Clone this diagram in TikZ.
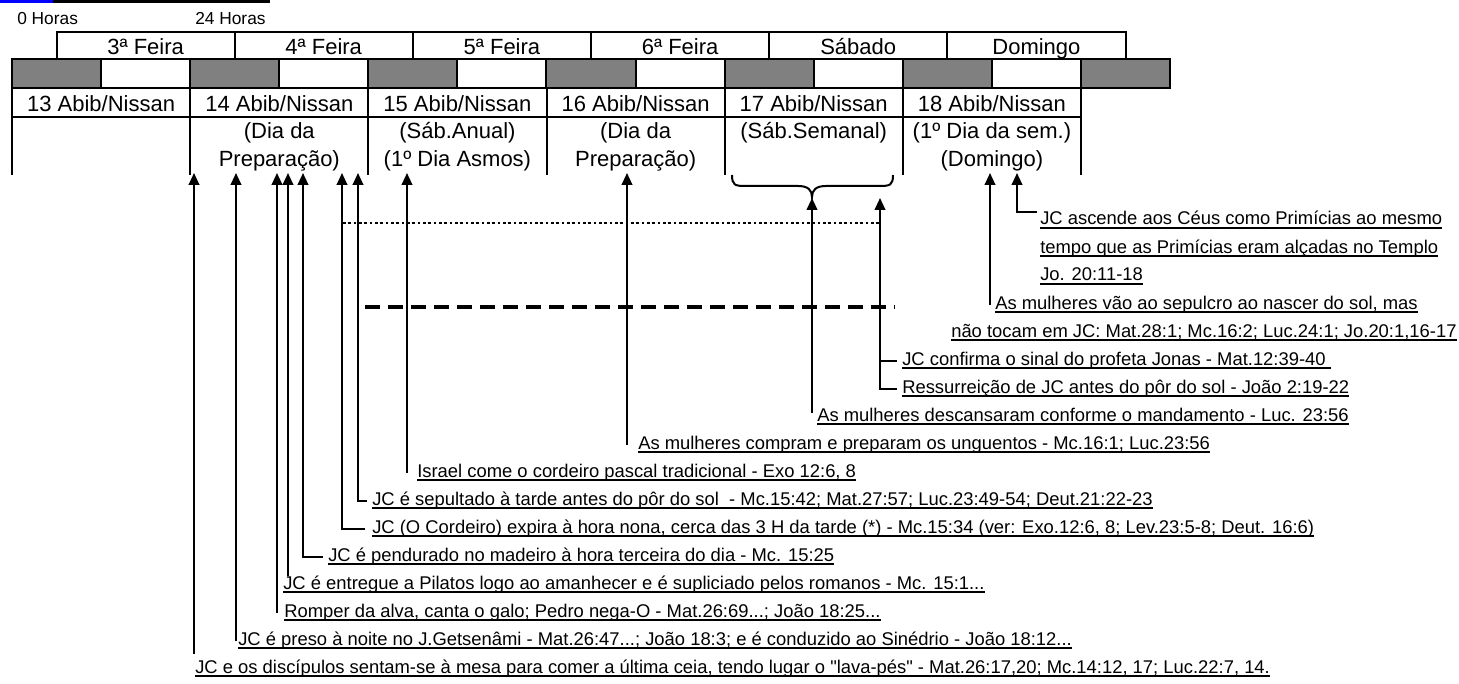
\documentclass[tikz,border=0pt]{standalone}
\usepackage{fontspec}
\setmainfont{Liberation Sans}
\usetikzlibrary{arrows.meta,calc}
\definecolor{cellgray}{HTML}{808080}
\definecolor{topblue}{HTML}{0000FF}
\newsavebox\ulbox
\newcommand{\ulx}[1]{\sbox\ulbox{#1}\rlap{\rule[-3pt]{\wd\ulbox}{1.3pt}}\usebox\ulbox}
\tikzset{
  gridline/.style={line width=1.5pt},
  hd/.style={inner sep=0pt, anchor=base, font=\fontsize{16.5pt}{18pt}\selectfont},
  hrs/.style={inner sep=0pt, anchor=base west, font=\fontsize{13pt}{15pt}\selectfont},
  tx/.style={inner sep=0pt, anchor=base west, text height=9.75pt, text depth=3.75pt,
             font=\fontsize{13.8pt}{16pt}\selectfont},
  arr/.style={line width=1.5pt, -{Triangle[width=8pt,length=9pt]}},
  plain/.style={line width=1.5pt},
}
\begin{document}
\begin{tikzpicture}[x=0.75pt,y=-0.75pt]
\useasboundingbox (0,0) rectangle (1459,684);
% top remnant line
\draw[topblue, line width=2pt] (0,1.3) -- (53,1.3);
\draw[line width=2pt] (53,1.3) -- (270,1.3);
% hour labels
\node[hrs] (h0) at (17,25) {0 Horas};
\node[hrs] (h24) at (195,25) {24 Horas};
% row 1: week days
\draw[gridline] (56.5,32) rectangle (1125.5,59);
\foreach \x in {234.7,412.8,591,769.2,947.3}
  \draw[gridline] (\x,32) -- (\x,59);
\node[hd] (d1) at (145.6,54.5) {3ª Feira};
\node[hd] (d2) at (323.7,54.5) {4ª Feira};
\node[hd] (d3) at (501.9,54.5) {5ª Feira};
\node[hd] (d4) at (680.1,54.5) {6ª Feira};
\node[hd] (d5) at (858.2,54.5) {Sábado};
\node[hd] (d6) at (1036.4,54.5) {Domingo};
% row 2: night/day cells
\foreach \i in {0,2,...,12}
  \fill[cellgray] ({12+\i*89.077},59) rectangle ({12+(\i+1)*89.077},88);
\draw[gridline] (12,59) rectangle (1170,88);
\foreach \i in {1,...,12}
  \draw[gridline] ({12+\i*89.077},59) -- ({12+\i*89.077},88);
% row 3: dates
\draw[gridline] (12,88) rectangle (1080.9,117);
\foreach \x in {190.2,368.3,546.5,724.6,902.8}
  \draw[gridline] (\x,88) -- (\x,117);
\node[hd] (n13) at (101.1,111.5) {13 Abib/Nissan};
\node[hd] (n14) at (279.3,111.5) {14 Abib/Nissan};
\node[hd] (n15) at (457.4,111.5) {15 Abib/Nissan};
\node[hd] (n16) at (635.6,111.5) {16 Abib/Nissan};
\node[hd] (n17) at (813.7,111.5) {17 Abib/Nissan};
\node[hd] (n18) at (991.9,111.5) {18 Abib/Nissan};
% row 4: open columns
\foreach \x in {12,190.2,368.3,546.5,724.6,902.8,1080.9}
  \draw[gridline] (\x,117) -- (\x,175);
\node[hd] (p14a) at (279.3,139) {(Dia da};
\node[hd] (p14b) at (279.3,166.5) {Preparação)};
\node[hd] (p15a) at (457.4,139) {(Sáb.Anual)};
\node[hd] (p15b) at (457.4,166.5) {(1º Dia Asmos)};
\node[hd] (p16a) at (635.6,139) {(Dia da};
\node[hd] (p16b) at (635.6,166.5) {Preparação)};
\node[hd] (p17a) at (813.7,139) {(Sáb.Semanal)};
\node[hd] (p18a) at (991.9,139) {(1º Dia da sem.)};
\node[hd] (p18b) at (991.9,166.5) {(Domingo)};
% brace under Saturday
\draw[plain] (732,175) .. controls (732,185) and (735,186) .. (745,186) -- (798,186)
  .. controls (808,186) and (812,190) .. (812,197)
  .. controls (812,190) and (816,186) .. (826,186) -- (880,186)
  .. controls (890,186) and (893,185) .. (893,175);
% dotted and dashed guide lines
\draw[line width=2pt, dash pattern=on 2pt off 2pt] (343,223) -- (880,223);
\draw[line width=2.4pt, dash pattern=on 11.25pt off 6pt] (365,307) -- (895,307);
% event texts
\node[tx] (t0) at (1040,225) {\ulx{JC ascende aos Céus como Primícias ao mesmo}};
\node[tx] (t1) at (1040,253) {\ulx{tempo que as Primícias eram alçadas no Templo}};
\node[tx] (t2) at (1040,281) {\ulx{Jo. 20:11-18}};
\node[tx] (t3) at (995,309) {\ulx{As mulheres vão ao sepulcro ao nascer do sol, mas}};
\node[tx] (t4) at (951,337) {\ulx{não tocam em JC: Mat.28:1; Mc.16:2; Luc.24:1; Jo.20:1,16-17}};
\node[tx] (t5) at (902,365) {\ulx{JC confirma o sinal do profeta Jonas - Mat.12:39-40 }};
\node[tx] (t6) at (902,393) {\ulx{Ressurreição de JC antes do pôr do sol - João 2:19-22}};
\node[tx] (t7) at (817,421) {\ulx{As mulheres descansaram conforme o mandamento - Luc. 23:56}};
\node[tx] (t8) at (638,449) {\ulx{As mulheres compram e preparam os unguentos - Mc.16:1; Luc.23:56}};
\node[tx] (t9) at (417,477) {\ulx{Israel come o cordeiro pascal tradicional - Exo 12:6, 8}};
\node[tx] (t10) at (372,505) {\ulx{JC é sepultado à tarde antes do pôr do sol\ \ - Mc.15:42; Mat.27:57; Luc.23:49-54; Deut.21:22-23}};
\node[tx] (t11) at (372,533) {\ulx{JC (O Cordeiro) expira à hora nona, cerca das 3 H da tarde (*) - Mc.15:34 (ver: Exo.12:6, 8; Lev.23:5-8; Deut. 16:6)}};
\node[tx] (t12) at (328,561) {\ulx{JC é pendurado no madeiro à hora terceira do dia - Mc. 15:25}};
\node[tx] (t13) at (283,589) {\ulx{JC é entregue a Pilatos logo ao amanhecer e é supliciado pelos romanos - Mc. 15:1...}};
\node[tx] (t14) at (284,617) {\ulx{Romper da alva, canta o galo; Pedro nega-O - Mat.26:69...; João 18:25...}};
\node[tx] (t15) at (238,645) {\ulx{JC é preso à noite no J.Getsenâmi - Mat.26:47...; João 18:3; e é conduzido ao Sinédrio - João 18:12...}};
\node[tx] (t16) at (195,673) {\ulx{JC e os discípulos sentam-se à mesa para comer a última ceia, tendo lugar o \textquotedbl lava-pés\textquotedbl\ - Mat.26:17,20; Mc.14:12, 17; Luc.22:7, 14.}};
% arrow tips
\coordinate (a16) at (194,173);
\coordinate (a15) at (236,173);
\coordinate (a14) at (277,173);
\coordinate (a13) at (288,173);
\coordinate (a12) at (303,173);
\coordinate (a11) at (342,173);
\coordinate (a10) at (358,173);
\coordinate (a9) at (407,173);
\coordinate (a8) at (627,173);
\coordinate (a7) at (812,198);
\coordinate (a6) at (880,198);
\coordinate (a3) at (990,173);
\coordinate (a0) at (1017,173);
% connectors
\draw[arr, shorten <=4.5pt] (a16 |- t16.north) -- (a16);
\draw[arr] (a15 |- t15.west) -- (a15);
\draw[arr] (a14 |- t14.west) -- (a14);
\draw[arr] (a13 |- t13.north) -- (a13);
\draw[arr, shorten <=3.75pt] (t12.west) -| (a12);
\draw[arr, shorten <=5.25pt] (t11.west) -| (a11);
\draw[arr, shorten <=3.75pt] (t10.west) -| (a10);
\draw[arr] (a9 |- t9.west) -- (a9);
\draw[arr] (a8 |- t8.west) -- (a8);
\draw[arr, shorten <=3pt] (a7 |- t7.west) -- (a7);
\draw[arr, shorten <=3.75pt] (t6.west) -| (a6);
\draw[plain, shorten <=3.75pt] (t5.west) -- (t5.west -| a6);
\draw[arr] (a3 |- t3.west) -- (a3);
\draw[arr, shorten <=2.25pt] (t0.north west) -| (a0);
\end{tikzpicture}
\end{document}
